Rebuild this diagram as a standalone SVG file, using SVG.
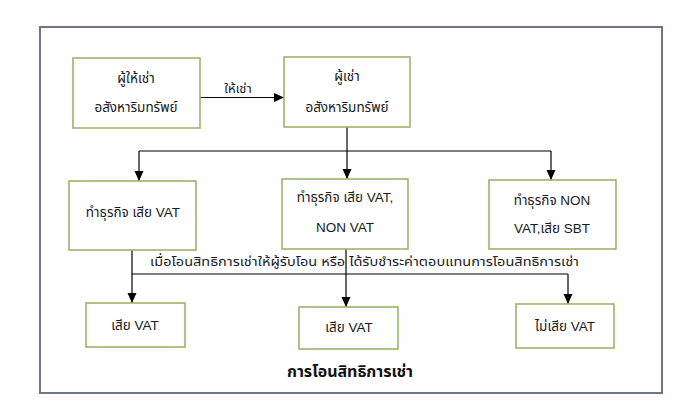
<svg xmlns="http://www.w3.org/2000/svg" width="692" height="417" viewBox="0 0 692 417">
<style>
  .box { fill: #ffffff; stroke: #9bb36a; stroke-width: 1.6; }
  .frame { fill: #ffffff; stroke: #6b7788; stroke-width: 2; }
  .t { font-family: "Tahoma", "Liberation Sans", "Noto Sans Thai", "Noto Sans", sans-serif; font-size: 13.5px; fill: #1a1a1a; text-anchor: middle; }
  .lbl { font-family: "Tahoma", "Liberation Sans", "Noto Sans Thai", "Noto Sans", sans-serif; font-size: 13px; fill: #1a1a1a; }
  .title { font-family: "Tahoma", "Liberation Sans", "Noto Sans Thai", "Noto Sans", sans-serif; font-size: 16px; font-weight: bold; fill: #111; text-anchor: middle; }
  .ln { fill: none; stroke: #000; stroke-width: 1.2; }
</style>
<defs>
  <marker id="ah" markerUnits="userSpaceOnUse" markerWidth="10" markerHeight="10" refX="10" refY="4.5" orient="auto">
    <path d="M0,0 L10,4.5 L0,9 Z" fill="#000"/>
  </marker>
</defs>
<rect class="frame" x="40" y="27" width="622" height="366"/>

<g id="connectors">
  <line class="ln" x1="200" y1="97.5" x2="284" y2="97.5" marker-end="url(#ah)"/>
  <line class="ln" x1="347" y1="127" x2="347" y2="179" marker-end="url(#ah)"/>
  <line class="ln" x1="139" y1="151" x2="551" y2="151"/>
  <line class="ln" x1="139" y1="151" x2="139" y2="181" marker-end="url(#ah)"/>
  <line class="ln" x1="551" y1="151" x2="551" y2="180" marker-end="url(#ah)"/>
  <line class="ln" x1="132" y1="250" x2="132" y2="303" marker-end="url(#ah)"/>
  <line class="ln" x1="346" y1="249" x2="346" y2="307" marker-end="url(#ah)"/>
  <line class="ln" x1="132" y1="274" x2="568" y2="274"/>
  <line class="ln" x1="568" y1="274" x2="568" y2="304" marker-end="url(#ah)"/>
  <text class="lbl" x="238" y="93" text-anchor="middle">ให้เช่า</text>
  <text class="lbl" x="150" y="266" textLength="429" lengthAdjust="spacingAndGlyphs">เมื่อโอนสิทธิการเช่าให้ผู้รับโอน หรือ ได้รับชำระค่าตอบแทนการโอนสิทธิการเช่า</text>
</g>

<g id="lessor">
  <rect class="box" x="73" y="58" width="127" height="70"/>
  <text class="t" x="136" y="83">ผู้ให้เช่า</text>
  <text class="t" x="136" y="112">อสังหาริมทรัพย์</text>
</g>
<g id="lessee">
  <rect class="box" x="284" y="57" width="126" height="70"/>
  <text class="t" x="347" y="81">ผู้เช่า</text>
  <text class="t" x="347" y="112">อสังหาริมทรัพย์</text>
</g>
<g id="biz-vat">
  <rect class="box" x="69" y="181" width="127" height="69"/>
  <text class="t" x="133" y="217">ทำธุรกิจ เสีย VAT</text>
</g>
<g id="biz-vat-nonvat">
  <rect class="box" x="282" y="179" width="126" height="70"/>
  <text class="t" x="345" y="202">ทำธุรกิจ เสีย VAT,</text>
  <text class="t" x="345" y="232">NON VAT</text>
</g>
<g id="biz-nonvat-sbt">
  <rect class="box" x="489" y="180" width="127" height="69"/>
  <text class="t" x="552" y="205">ทำธุรกิจ NON</text>
  <text class="t" x="552" y="233">VAT,เสีย SBT</text>
</g>
<g id="out-vat-1">
  <rect class="box" x="86" y="303" width="99" height="44"/>
  <text class="t" x="135" y="330">เสีย VAT</text>
</g>
<g id="out-vat-2">
  <rect class="box" x="299" y="307" width="99" height="42"/>
  <text class="t" x="349" y="332">เสีย VAT</text>
</g>
<g id="out-novat">
  <rect class="box" x="516" y="304" width="98" height="44"/>
  <text class="t" x="565" y="331">ไม่เสีย VAT</text>
</g>
<text class="title" x="350" y="377">การโอนสิทธิการเช่า</text>
</svg>
